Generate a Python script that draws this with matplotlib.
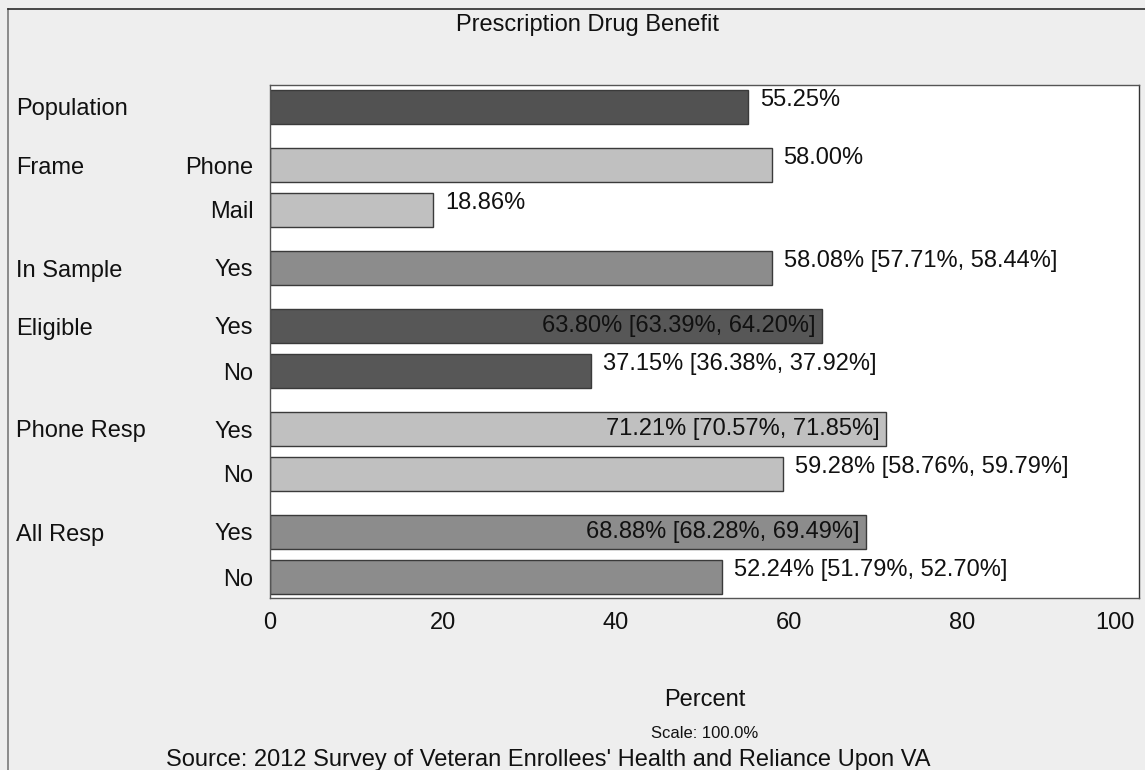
import matplotlib
matplotlib.use("Agg")
import matplotlib.pyplot as plt
from matplotlib.lines import Line2D
from matplotlib.transforms import offset_copy, blended_transform_factory

# ---- data ----
groups = ["Population", "Frame", "In Sample", "Eligible", "Phone Resp", "All Resp"]
sublabels = [[""], ["Phone", "Mail"], ["Yes"], ["Yes", "No"], ["Yes", "No"], ["Yes", "No"]]
values = [[55.25], [58.00, 18.86], [58.08], [63.80, 37.15], [71.21, 59.28], [68.88, 52.24]]
ci_low = [[None], [None, None], [57.71], [63.39, 36.38], [70.57, 58.76], [68.28, 51.79]]
ci_high = [[None], [None, None], [58.44], [64.20, 37.92], [71.85, 59.79], [69.49, 52.70]]
group_colors = ["#525252", "#c0c0c0", "#8c8c8c", "#575757", "#c0c0c0", "#8c8c8c"]
xticks = [0, 20, 40, 60, 80, 100]

title = "Prescription Drug Benefit"
xlabel = "Percent"
scale_note = "Scale: 100.0%"
source = "Source: 2012 Survey of Veteran Enrollees' Health and Reliance Upon VA"

FONT = ["Liberation Sans", "DejaVu Sans"]
plt.rcParams["font.family"] = FONT

W, H = 1145, 770
fig = plt.figure(figsize=(W / 100, H / 100), dpi=100)
fig.patch.set_facecolor("#eeeeee")

# outer frame
fig.add_artist(Line2D([8 / W, 8 / W], [0, 1 - 9 / H], transform=fig.transFigure, color="#7a7a7a", lw=1.2))
fig.add_artist(Line2D([8 / W, 1], [1 - 9 / H, 1 - 9 / H], transform=fig.transFigure, color="#2a2a2a", lw=1.2))

left, right, top, bottom = 270, 1139, 85, 598
ax = fig.add_axes([left / W, 1 - bottom / H, (right - left) / W, (bottom - top) / H])
ax.set_facecolor("white")

# layout (pixel-like units along the category axis)
start, in_step, grp_step, bar_h = 22, 45, 58, 34
y = start
flat = []
for gi, g in enumerate(groups):
    for si, s in enumerate(sublabels[gi]):
        if si > 0:
            y += in_step
        flat.append((gi, si, y))
    y += grp_step

for gi, si, yy in flat:
    v = values[gi][si]
    ax.barh(yy, v, height=bar_h, color=group_colors[gi], edgecolor="#3a3a3a", linewidth=1.0)
    lo, hi = ci_low[gi][si], ci_high[gi][si]
    if lo is None:
        lab = f"{v:.2f}%"
    else:
        lab = f"{v:.2f}% [{lo:.2f}%, {hi:.2f}%]"
    if v > 60:
        tr = offset_copy(ax.transData, fig=fig, x=-6, y=0, units="dots")
        ax.text(v, yy, lab, transform=tr, ha="right", va="center", fontsize=17, color="#111111")
    else:
        tr = offset_copy(ax.transData, fig=fig, x=12, y=7, units="dots")
        ax.text(v, yy, lab, transform=tr, ha="left", va="center", fontsize=17, color="#111111")

ax.set_xlim(0, 100.5)
ax.set_ylim(513, 0)
ax.set_xticks(xticks)
ax.set_xticklabels([str(t) for t in xticks])
ax.get_xticklabels()[-1].set_horizontalalignment("right")
ax.set_yticks([f[2] for f in flat])
ax.set_yticklabels([sublabels[gi][si] for gi, si, _ in flat])
ax.tick_params(axis="both", length=0, labelsize=17, colors="#111111")
ax.tick_params(axis="x", pad=10)
ax.tick_params(axis="y", pad=12)
for sp in ax.spines.values():
    sp.set_color("#555555")
    sp.set_linewidth(1.0)
ax.spines["right"].set_color("#333333")

# group labels
gtr = blended_transform_factory(fig.transFigure, ax.transData)
for gi, si, yy in flat:
    if si == 0:
        ax.text(16 / W, yy, groups[gi], transform=gtr,
                ha="left", va="center_baseline", fontsize=17, color="#111111")

fig.text(588 / W, 1 - 25 / H, title, ha="center", va="center", fontsize=17, color="#111111")
fig.text((left + right) / 2 / W, 1 - 700 / H, xlabel, ha="center", va="center", fontsize=17, color="#111111")
fig.text((left + right) / 2 / W, 1 - 733 / H, scale_note, ha="center", va="center", fontsize=12, color="#111111")
fig.text(548 / W, 1 - 760 / H, source, ha="center", va="center", fontsize=17, color="#111111")

fig.savefig("out.png", dpi=100, facecolor=fig.get_facecolor())
